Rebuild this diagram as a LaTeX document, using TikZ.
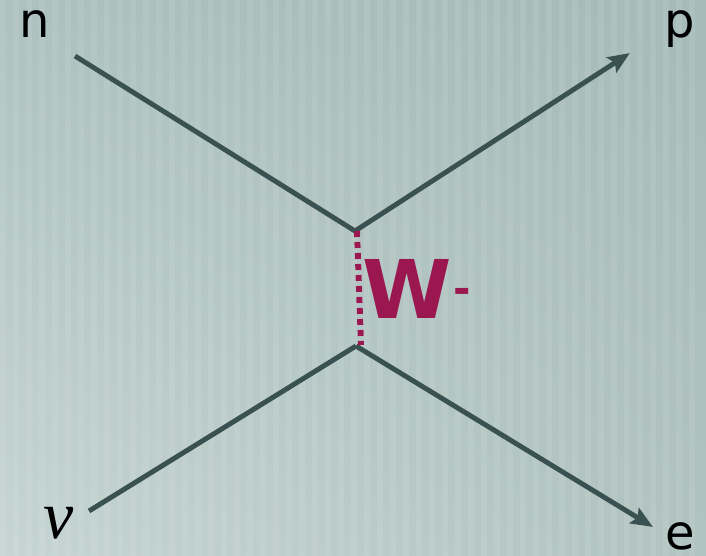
\documentclass[tikz,border=0pt]{standalone}
\usepackage{fontspec}
\setmainfont{DejaVu Sans}
\newfontfamily\greekfont{Liberation Serif}
\usepackage{tikz}
\usetikzlibrary{arrows.meta, calc, shadings}

\definecolor{bgul}{HTML}{ADC2BF}
\definecolor{bgur}{HTML}{A6BBB8}
\definecolor{bgll}{HTML}{C6D5D3}
\definecolor{bglr}{HTML}{B0C3C0}
\definecolor{fermion}{HTML}{3A5151}
\definecolor{boson}{HTML}{9A1750}

\begin{document}
\begin{tikzpicture}[x=1pt, y=-1pt,
  lbl/.style={anchor=base, inner sep=0pt, text=black, font=\fontsize{48}{48}\selectfont},
  wlbl/.style={anchor=base west, inner sep=0pt, text=boson, font=\fontsize{81}{81}\selectfont\bfseries},
  line/.style={draw=fermion, line width=5pt},
  arr/.style={line, -{Stealth[length=22pt, width=18pt, inset=4pt]}},
  glow/.style={draw=white, line width=5pt, opacity=0.6, shift={(2,4)}},
  glowarr/.style={glow, -{Stealth[length=22pt, width=18pt, inset=4pt]}},
  wline/.style={draw=boson, line width=6pt, dash pattern=on 6pt off 5pt}]

  % background
  \useasboundingbox (0,0) rectangle (706,556);
  \shade[upper left=bgul, upper right=bgur, lower left=bgll, lower right=bglr]
    (0,0) rectangle (706,556);
  \foreach \x in {0,13,...,700}
    \fill[white, opacity=0.08] (\x,0) rectangle ++(6,556);

  % vertices and line ends
  \coordinate (top)  at (355,231);
  \coordinate (bot)  at (356,346);
  \coordinate (nEnd) at (75,56);
  \coordinate (pEnd) at (630,53);
  \coordinate (vEnd) at (89,511);
  \coordinate (eEnd) at (653,527);
  \coordinate (wTop) at (357,231);
  \coordinate (wBot) at (361,345);

  % labels
  \node[lbl] (n) at (35,38) {n};
  \node[lbl] (p) at (680,38) {p};
  \node[lbl] (e) at (680,549) {e};
  \node[lbl, font=\fontsize{68}{68}\selectfont\greekfont\itshape] (nu) at (59,538) {ν};
  \node[wlbl] (w) at (362,318) {W\kern2pt\raisebox{15pt}{\fontsize{42}{42}\selectfont -}};

  % soft highlights
  \draw[glow] (nEnd) -- (top);
  \draw[glowarr] (top) -- (pEnd);
  \draw[glow] (vEnd) -- (bot);
  \draw[glowarr] (bot) -- (eEnd);
  \draw[glow, line width=6pt, dash pattern=on 6pt off 5pt] (wTop) -- (wBot);

  % fermion lines
  \draw[line] (nEnd) -- (top);
  \draw[arr]  (top) -- (pEnd);
  \draw[line] (vEnd) -- (bot);
  \draw[arr]  (bot) -- (eEnd);

  % W boson
  \draw[wline] (wTop) -- (wBot);

\end{tikzpicture}
\end{document}
